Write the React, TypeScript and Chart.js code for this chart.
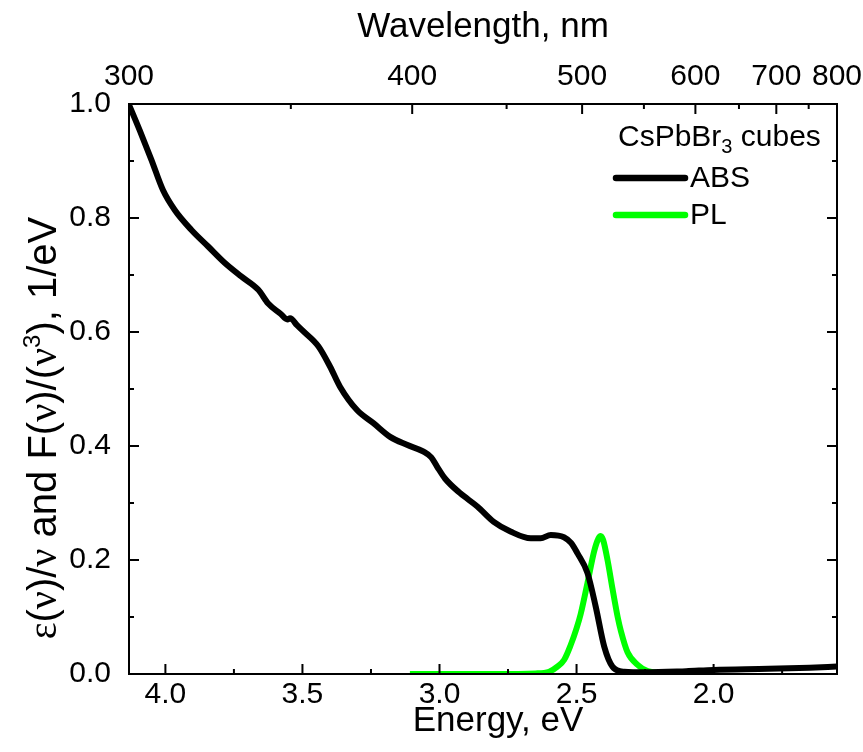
import React, { useEffect, useRef } from "react";
import { Chart, registerables } from "chart.js";

Chart.register(...registerables);

const HC = 1239.84;

// Absorption spectrum (energy in eV, normalized value)
const absEnergy = [
  4.134, 4.094, 4.051, 4.009, 3.966, 3.905, 3.844, 3.783, 3.722, 3.661, 3.625,
  3.58, 3.555, 3.545, 3.52, 3.503, 3.442, 3.399, 3.363, 3.301, 3.241, 3.18,
  3.119, 3.058, 3.03, 3.009, 2.98, 2.924, 2.862, 2.802, 2.741, 2.667, 2.631,
  2.594, 2.546, 2.52, 2.497, 2.46, 2.43, 2.399, 2.369, 2.326, 2.25, 2.1, 2.0,
  1.8, 1.65, 1.55,
];
const absValue = [
  1.0, 0.954, 0.902, 0.849, 0.814, 0.779, 0.75, 0.721, 0.697, 0.674, 0.65,
  0.632, 0.622, 0.624, 0.612, 0.604, 0.575, 0.539, 0.504, 0.463, 0.44, 0.416,
  0.402, 0.39, 0.38, 0.364, 0.343, 0.317, 0.294, 0.267, 0.25, 0.238, 0.238,
  0.244, 0.24, 0.23, 0.212, 0.177, 0.118, 0.048, 0.013, 0.004, 0.003, 0.005,
  0.007, 0.009, 0.011, 0.013,
];

// Photoluminescence spectrum
const plEnergy = [
  3.108, 2.8, 2.65, 2.6, 2.57, 2.545, 2.522, 2.5, 2.485, 2.46, 2.436, 2.42,
  2.412, 2.403, 2.387, 2.369, 2.35, 2.338, 2.314, 2.277, 2.24, 2.15, 2.058,
];
const plValue = [
  0.0, 0.0, 0.001, 0.004, 0.013, 0.025, 0.05, 0.08, 0.105, 0.16, 0.215, 0.238,
  0.242, 0.235, 0.2, 0.15, 0.1, 0.075, 0.038, 0.016, 0.005, 0.001, 0.0,
];

const energyTicks = [4.0, 3.5, 3.0, 2.5, 2.0];
const energyMinorTicks = [3.75, 3.25, 2.75, 2.25, 1.75];
const wavelengthTicks = [300, 400, 500, 600, 700, 800];
const wavelengthMinorTicks = [350, 450, 550, 650, 750];
const yTicks = [0, 0.2, 0.4, 0.6, 0.8, 1.0];
const yMinorTicks = [0.1, 0.3, 0.5, 0.7, 0.9];

const SANS = "'Liberation Sans', Arial, sans-serif";
const SERIF = "'Liberation Serif', 'Times New Roman', serif";
const TICK_SIZE = 30;
const TITLE_SIZE = 35;
const LEGEND_SIZE = 30;

const frame = {
  id: "frame",
  afterDraw(chart: any) {
    const ctx = chart.ctx;
    const { left, right, top, bottom } = chart.chartArea;
    const xs = chart.scales.x;
    const ys = chart.scales.y;
    const major = 10;
    const minor = 5;
    ctx.save();
    ctx.strokeStyle = "#000";
    ctx.lineWidth = 2;
    ctx.strokeRect(left, top, right - left, bottom - top);
    ctx.beginPath();
    const vx = (v: number, len: number) => {
      const p = xs.getPixelForValue(v);
      ctx.moveTo(p, bottom);
      ctx.lineTo(p, bottom - len);
    };
    energyTicks.forEach((v) => vx(v, major));
    energyMinorTicks.forEach((v) => vx(v, minor));
    const tx = (w: number, len: number) => {
      const p = xs.getPixelForValue(HC / w);
      ctx.moveTo(p, top);
      ctx.lineTo(p, top + len);
    };
    wavelengthTicks.forEach((w) => tx(w, major));
    wavelengthMinorTicks.forEach((w) => tx(w, minor));
    const ty = (v: number, len: number) => {
      const p = ys.getPixelForValue(v);
      ctx.moveTo(left, p);
      ctx.lineTo(left + len, p);
      ctx.moveTo(right, p);
      ctx.lineTo(right - len, p);
    };
    yTicks.forEach((v) => ty(v, major));
    yMinorTicks.forEach((v) => ty(v, minor));
    ctx.stroke();

    // Bottom axis title
    ctx.fillStyle = "#000";
    ctx.font = `${TITLE_SIZE}px ${SANS}`;
    ctx.textAlign = "center";
    ctx.textBaseline = "alphabetic";
    ctx.fillText("Energy, eV", (left + right) / 2 + 15, 731);

    // Y axis title with mixed fonts
    const fs = 40;
    const segs: [string, string, number, number][] = [
      ["ε", SERIF, fs, 0],
      ["(", SANS, fs, 0],
      ["ν", SERIF, fs, 0],
      [")/", SANS, fs, 0],
      ["ν", SERIF, fs, 0],
      [" and F(", SANS, fs, 0],
      ["ν", SERIF, fs, 0],
      [")/(", SANS, fs, 0],
      ["ν", SERIF, fs, 0],
      ["3", SANS, fs * 0.6, -fs * 0.4],
      ["), 1/eV", SANS, fs, 0],
    ];
    let total = 0;
    const widths = segs.map(([t, f, s]) => {
      ctx.font = `${s}px ${f}`;
      const w = ctx.measureText(t).width;
      total += w;
      return w;
    });
    ctx.translate(56, 428);
    ctx.rotate(-Math.PI / 2);
    ctx.textAlign = "left";
    let cx = -total / 2;
    segs.forEach(([t, f, s, dy], i) => {
      ctx.font = `${s}px ${f}`;
      ctx.fillText(t, cx, dy);
      cx += widths[i];
    });
    ctx.restore();

    // Legend
    ctx.save();
    ctx.fillStyle = "#000";
    ctx.textAlign = "left";
    ctx.textBaseline = "alphabetic";
    const lx = right - 219;
    const ly = top + 42;
    ctx.font = `${LEGEND_SIZE}px ${SANS}`;
    const a = "CsPbBr";
    ctx.fillText(a, lx, ly);
    let w = ctx.measureText(a).width;
    ctx.font = `${Math.round(LEGEND_SIZE * 0.68)}px ${SANS}`;
    ctx.fillText("3", lx + w, ly + 7);
    w += ctx.measureText("3").width;
    ctx.font = `${LEGEND_SIZE}px ${SANS}`;
    ctx.fillText(" cubes", lx + w, ly);
    const items: [string, string, number][] = [
      ["ABS", "#000000", top + 74],
      ["PL", "#00ff00", top + 111],
    ];
    items.forEach(([label, color, y]) => {
      ctx.strokeStyle = color;
      ctx.lineWidth = 6.5;
      ctx.lineCap = "round";
      ctx.beginPath();
      ctx.moveTo(lx - 2, y);
      ctx.lineTo(lx + 67, y);
      ctx.stroke();
      ctx.textBaseline = "middle";
      ctx.font = `${LEGEND_SIZE}px ${SANS}`;
      ctx.fillText(label, lx + 72, y + 1);
    });
    ctx.restore();
  },
};

const noEdgePadding = (s: any) => {
  s.paddingLeft = 0;
  s.paddingRight = 0;
  s.paddingTop = 0;
  s.paddingBottom = 0;
};

export default function App() {
  const ref = useRef<HTMLCanvasElement | null>(null);
  useEffect(() => {
    if (!ref.current) return;
    const xMin = HC / 800;
    const xMax = HC / 300;
    const chart = new Chart(ref.current, {
      type: "line",
      data: {
        datasets: [
          {
            label: "ABS",
            data: absEnergy.map((e, i) => ({ x: e, y: absValue[i] })),
            borderColor: "#000000",
            borderWidth: 6,
            pointRadius: 0,
            cubicInterpolationMode: "monotone",
            fill: false,
            xAxisID: "x",
            yAxisID: "y",
          },
          {
            label: "PL",
            data: plEnergy.map((e, i) => ({ x: e, y: plValue[i] })),
            borderColor: "#00ff00",
            borderWidth: 6,
            pointRadius: 0,
            cubicInterpolationMode: "monotone",
            fill: false,
            xAxisID: "x",
            yAxisID: "y",
          },
        ],
      },
      options: {
        responsive: false,
        animation: false,
        devicePixelRatio: 1,
        layout: { padding: { left: 0, right: 26, top: 0, bottom: 0 } },
        plugins: { legend: { display: false }, tooltip: { enabled: false } },
        scales: {
          x: {
            type: "linear",
            position: "bottom",
            min: xMin,
            max: xMax,
            reverse: true,
            afterBuildTicks: (s: any) => {
              s.ticks = energyTicks.map((v) => ({ value: v }));
            },
            afterFit: (s: any) => {
              s.height = 78;
              noEdgePadding(s);
            },
            grid: { display: false, drawTicks: false },
            border: { display: false },
            ticks: {
              autoSkip: false,
              maxRotation: 0,
              padding: 3,
              color: "#000",
              font: { family: SANS, size: TICK_SIZE },
              callback: (v: any) => Number(v).toFixed(1),
            },
          },
          x2: {
            type: "linear",
            position: "top",
            min: xMin,
            max: xMax,
            reverse: true,
            afterBuildTicks: (s: any) => {
              s.ticks = wavelengthTicks.map((w) => ({ value: HC / w }));
            },
            afterFit: (s: any) => {
              s.height = 104;
              noEdgePadding(s);
            },
            grid: { display: false, drawTicks: false },
            border: { display: false },
            ticks: {
              autoSkip: false,
              maxRotation: 0,
              padding: 9,
              color: "#000",
              font: { family: SANS, size: TICK_SIZE },
              callback: (v: any) => String(Math.round(HC / Number(v))),
            },
            title: {
              display: true,
              text: "Wavelength, nm",
              color: "#000",
              font: { family: SANS, size: TITLE_SIZE },
              padding: { top: 6, bottom: 0 },
            },
          },
          y: {
            type: "linear",
            position: "left",
            min: 0,
            max: 1,
            afterBuildTicks: (s: any) => {
              s.ticks = yTicks.map((v) => ({ value: v }));
            },
            afterFit: (s: any) => {
              s.width = 129;
              noEdgePadding(s);
            },
            grid: { display: false, drawTicks: false },
            border: { display: false },
            ticks: {
              autoSkip: false,
              padding: 18,
              color: "#000",
              font: { family: SANS, size: TICK_SIZE },
              callback: (v: any) => Number(v).toFixed(1),
            },
          },
        },
      },
      plugins: [frame],
    } as any);
    return () => chart.destroy();
  }, []);
  return (
    <div style={{ position: "absolute", left: 0, top: 0, width: 863, height: 752, background: "#fff" }}>
      <canvas ref={ref} width={863} height={752} />
    </div>
  );
}
